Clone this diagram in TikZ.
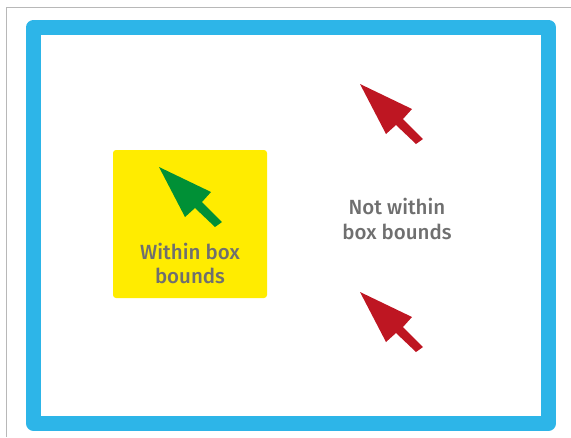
\documentclass[tikz,border=0pt]{standalone}
\usepackage{fontspec}
\setmainfont{Fira Sans}[UprightFont=* Medium]
\usepackage{tikz}
\usetikzlibrary{positioning}
\definecolor{boundblue}{HTML}{2DB5E8}
\definecolor{boxyellow}{HTML}{FFEC00}
\definecolor{okgreen}{HTML}{009036}
\definecolor{badred}{HTML}{BE1622}
\definecolor{labelgray}{HTML}{6F6F6F}
\tikzstyle{frame} = [draw=boundblue, line width=15pt, line join=round, minimum width=514.5pt, minimum height=396.5pt]
\tikzstyle{inbox} = [fill=boxyellow, rounded corners=3pt, minimum width=154pt, minimum height=148pt]
\tikzstyle{caption} = [text=labelgray, align=center, font=\fontsize{20.5}{24.5}\selectfont]
\tikzset{
    pointer/.pic={
        \fill (0,0) -- (52,25) -- (43,35) -- (63,55) -- (56,60) -- (36,41) -- (26,50) -- cycle;
    }
}

\begin{document}
\begin{tikzpicture}[x=1pt, y=-1pt]
    \useasboundingbox (0,0) rectangle (571,437);
    \draw[black!28, line width=1pt] (571,7) -- (6,7) -- (6,437);
    \node[frame] (bounds) at (291,225.25) {};
    \node[inbox] (within) at (190,224) {};
    \node[caption] (withintxt) at (190,263.5) {Within box\\bounds};
    \node[caption] (outsidetxt) at (397,219) {Not within\\box bounds};
    % cursors
    \pic[okgreen] at (159,167) {pointer};
    \pic[badred] at (360,84) {pointer};
    \pic[badred] at (360,292) {pointer};
\end{tikzpicture}
\end{document}
